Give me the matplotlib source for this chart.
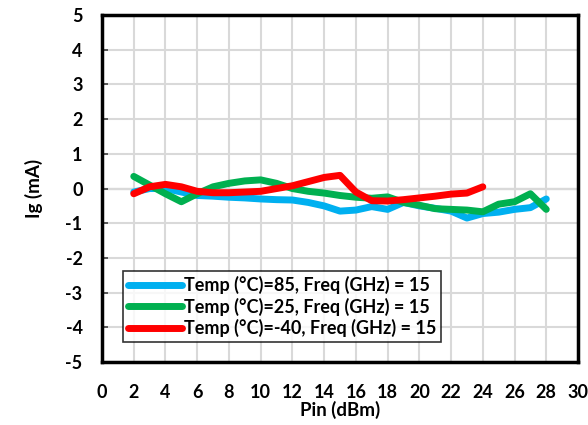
import matplotlib
matplotlib.use("Agg")
import matplotlib.pyplot as plt

plt.rcParams['font.family'] = ['Lato', 'DejaVu Sans']
plt.rcParams['font.weight'] = 'bold'
plt.rcParams['axes.unicode_minus'] = False

# Gate current vs input power at 15 GHz for three temperatures
pin_85 = [2, 3, 4, 5, 6, 7, 8, 9, 10, 11, 12, 13, 14, 15, 16, 17, 18, 19, 20,
          21, 22, 23, 24, 25, 26, 27, 28]
ig_85 = [-0.1, 0.0, 0.0, -0.1, -0.2, -0.22, -0.25, -0.27, -0.3, -0.32, -0.33,
         -0.4, -0.5, -0.65, -0.62, -0.52, -0.6, -0.4, -0.5, -0.57, -0.65, -0.85,
         -0.72, -0.68, -0.6, -0.55, -0.3]

pin_25 = [2, 3, 4, 5, 6, 7, 8, 9, 10, 11, 12, 13, 14, 15, 16, 17, 18, 19, 20,
          21, 22, 23, 24, 25, 26, 27, 28]
ig_25 = [0.35, 0.1, -0.15, -0.38, -0.15, 0.05, 0.15, 0.22, 0.25, 0.15, 0.0,
         -0.08, -0.13, -0.2, -0.25, -0.28, -0.24, -0.4, -0.48, -0.58, -0.6,
         -0.62, -0.67, -0.45, -0.38, -0.15, -0.6]

pin_m40 = [2, 3, 4, 5, 6, 7, 8, 9, 10, 11, 12, 13, 14, 15, 16, 17, 18, 19, 20,
           21, 22, 23, 24]
ig_m40 = [-0.15, 0.05, 0.12, 0.05, -0.08, -0.12, -0.12, -0.1, -0.08, 0.0, 0.08,
          0.2, 0.32, 0.38, -0.1, -0.35, -0.36, -0.32, -0.27, -0.22, -0.16,
          -0.13, 0.05]

labels = ["Temp (°C)=85, Freq (GHz) = 15",
          "Temp (°C)=25, Freq (GHz) = 15",
          "Temp (°C)=-40, Freq (GHz) = 15"]
colors = ["#00b0f0", "#00b050", "#ff0000"]

x_ticks = list(range(0, 31, 2))
y_ticks = list(range(-5, 6, 1))

fig = plt.figure(figsize=(5.88, 4.25), dpi=100)
ax = fig.add_axes([0.1735, 0.148, 0.8095, 0.8167])

ax.set_xlim(0, 30)
ax.set_ylim(-5, 5)
ax.set_xticks(x_ticks)
ax.set_yticks(y_ticks)
ax.grid(True, color="#d9d9d9", linewidth=1.5, zorder=0)
ax.axhline(0, color="#808080", linewidth=1.5, zorder=1)

for xs, ys, c, lab in zip([pin_85, pin_25, pin_m40], [ig_85, ig_25, ig_m40],
                          colors, labels):
    ax.plot(xs, ys, color=c, linewidth=5, label=lab, solid_joinstyle="round",
            solid_capstyle="round", zorder=3)

for s in ax.spines.values():
    s.set_linewidth(2.5)
    s.set_color("black")

ax.tick_params(axis="y", direction="in", length=4, width=1.2, color="#404040",
               pad=14, labelsize=13)
ax.tick_params(axis="x", length=0, pad=16, labelsize=13)
for t in ax.get_xticklabels() + ax.get_yticklabels():
    t.set_fontweight("bold")

ax.set_xlabel("Pin (dBm)", fontsize=13.5, fontweight="bold", labelpad=0)
ax.set_ylabel("Ig (mA)", fontsize=13.5, fontweight="bold", labelpad=16)

leg = ax.legend(loc="lower left", bbox_to_anchor=(0.045, 0.058), fontsize=13,
                frameon=True, fancybox=False, handlelength=3.0,
                handletextpad=0.1, borderpad=0.25, labelspacing=0.2,
                borderaxespad=0)
leg.get_frame().set_edgecolor("black")
leg.get_frame().set_linewidth(1.2)
for t in leg.get_texts():
    t.set_fontweight("bold")

fig.savefig("out.png", dpi=100)
